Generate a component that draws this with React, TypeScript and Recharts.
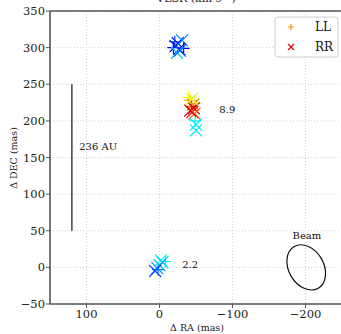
import React from "react";
import {
  ScatterChart,
  Scatter,
  XAxis,
  YAxis,
  CartesianGrid,
  ReferenceLine,
  Customized,
} from "recharts";

// offsets in mas, velocity in km/s (coloured with a jet map)
const rrRa = [-22, -25, -31, -27, -24, -28, -46, -47, -45, -48, -42, -44, -50, -50, -2, -4, 0, 3, 6];
const rrDec = [302, 306, 310, 298, 293, 296, 222, 217, 212, 210, 214, 230, 195, 187, 10, 7, 3, -1, -5];
const rrVel = [1.0, 1.5, 2.6, 0.6, 3.2, 2.2, 7.6, 9.5, 8.8, 8.0, 9.1, 5.8, 3.6, 3.5, 3.9, 3.4, 3.0, 2.6, 2.0];

const llRa = [-19, -33, -21, -44, -42, -40, -50, -49, -8, 2];
const llDec = [300, 299, 308, 220, 228, 232, 224, 200, 8, -3];
const llVel = [0.8, 1.2, 2.0, 8.4, 7.0, 6.2, 5.5, 3.7, 3.6, 2.3];

const labelText = ["8.9", "2.2", "236 AU", "Beam"];
const labelRa = [-82, -31, 110, -202];
const labelDec = [215, 4, 165, 44];
const labelAnchor = ["start", "start", "start", "middle"];

const beamRa = [-201];
const beamDec = [0];

const xTicks = [100, 0, -100, -200];
const yTicks = [-50, 0, 50, 100, 150, 200, 250, 300, 350];

const vMin = 0;
const vMax = 10;

const rrData = rrRa.map((ra, i) => ({ ra, dec: rrDec[i], v: rrVel[i] }));
const llData = llRa.map((ra, i) => ({ ra, dec: llDec[i], v: llVel[i] }));
const labelData = labelText.map((t, i) => ({ ra: labelRa[i], dec: labelDec[i], t, a: labelAnchor[i] }));
const beamData = beamRa.map((ra, i) => ({ ra, dec: beamDec[i] }));

const FONT = "'DejaVu Serif', serif";

const jet = (v: number) => {
  const t = Math.min(1, Math.max(0, (v - vMin) / (vMax - vMin)));
  const c = (x: number) => Math.round(255 * Math.min(1, Math.max(0, 1.5 - Math.abs(x))));
  return `rgb(${c(4 * t - 3)},${c(4 * t - 2)},${c(4 * t - 1)})`;
};

const fmt = (v: number) => (v < 0 ? `\u2212${-v}` : `${v}`);

const Cross = (props: any) => {
  const { cx, cy, payload } = props;
  const s = 6;
  return (
    <path
      d={`M${cx - s},${cy - s}L${cx + s},${cy + s}M${cx - s},${cy + s}L${cx + s},${cy - s}`}
      stroke={jet(payload.v)}
      strokeWidth={1.2}
      fill="none"
    />
  );
};

const Plus = (props: any) => {
  const { cx, cy, payload } = props;
  const s = 6;
  return (
    <path
      d={`M${cx - s},${cy}L${cx + s},${cy}M${cx},${cy - s}L${cx},${cy + s}`}
      stroke={jet(payload.v)}
      strokeWidth={1.2}
      fill="none"
    />
  );
};

const LabelShape = (props: any) => {
  const { cx, cy, payload } = props;
  return (
    <text x={cx} y={cy} textAnchor={payload.a} dominantBaseline="central" fontFamily={FONT} fontSize={10} fill="#111">
      {payload.t}
    </text>
  );
};

const BeamShape = (props: any) => {
  const { cx, cy } = props;
  return (
    <ellipse
      cx={cx}
      cy={cy}
      rx={17.5}
      ry={24}
      transform={`rotate(-30 ${cx} ${cy})`}
      fill="none"
      stroke="#111"
      strokeWidth={1.2}
    />
  );
};

const Extras = () => (
  <g fontFamily={FONT}>
    <text x={196} y={2} textAnchor="middle" fontSize={11} fill="#222">
      VLSR (km s⁻¹)
    </text>
    <text x={197} y={327} textAnchor="middle" dominantBaseline="central" fontSize={9.5} fill="#222">
      Δ RA (mas)
    </text>
    <text
      x={13}
      y={158}
      textAnchor="middle"
      dominantBaseline="central"
      fontSize={9.5}
      fill="#222"
      transform="rotate(-90 13 158)"
    >
      Δ DEC (mas)
    </text>
    <rect x={275} y={17} width={63} height={40} rx={3} fill="#fff" fillOpacity={0.85} stroke="#ccc" />
    <path d="M288,27L294,27M291,24L291,30" stroke="#ff8c00" strokeWidth={1.2} />
    <text x={315} y={27} dominantBaseline="central" fontSize={12} fill="#111">
      LL
    </text>
    <path d="M288,44L294,50M288,50L294,44" stroke="#e8000b" strokeWidth={1.2} />
    <text x={315} y={47} dominantBaseline="central" fontSize={12} fill="#111">
      RR
    </text>
  </g>
);

export default function App() {
  return (
    <div style={{ position: "absolute", left: 0, top: 0, width: 341, height: 334, overflow: "hidden", background: "#fff" }}>
      <ScatterChart width={342} height={334} margin={{ top: 11, right: 0, bottom: 0, left: 0 }}>
        <CartesianGrid stroke="#d0d0d0" strokeDasharray="1 2" />
        <XAxis
          type="number"
          dataKey="ra"
          domain={[-250, 150]}
          reversed
          allowDataOverflow
          ticks={xTicks}
          tickFormatter={fmt}
          height={30}
          tickSize={4}
          tickMargin={2}
          axisLine={{ stroke: "#555", strokeWidth: 1.6 }}
          tickLine={{ stroke: "#555" }}
          tick={{ fontFamily: FONT, fontSize: 11.5, fill: "#222" }}
        />
        <YAxis
          type="number"
          dataKey="dec"
          domain={[-50, 350]}
          allowDataOverflow
          ticks={yTicks}
          tickFormatter={fmt}
          width={50}
          tickSize={4}
          tickMargin={1}
          axisLine={{ stroke: "#555", strokeWidth: 1.6 }}
          tickLine={{ stroke: "#555" }}
          tick={{ fontFamily: FONT, fontSize: 11.5, fill: "#222" }}
        />
        <ReferenceLine y={350} stroke="#555" strokeWidth={1.6} />
        <ReferenceLine
          segment={[
            { x: 120, y: 50 },
            { x: 120, y: 250 },
          ]}
          stroke="#111"
          strokeWidth={1.2}
        />
        <Scatter data={llData} shape={Plus} isAnimationActive={false} />
        <Scatter data={rrData} shape={Cross} isAnimationActive={false} />
        <Scatter data={beamData} shape={BeamShape} isAnimationActive={false} />
        <Scatter data={labelData} shape={LabelShape} isAnimationActive={false} />
        <Customized component={Extras} />
      </ScatterChart>
    </div>
  );
}
